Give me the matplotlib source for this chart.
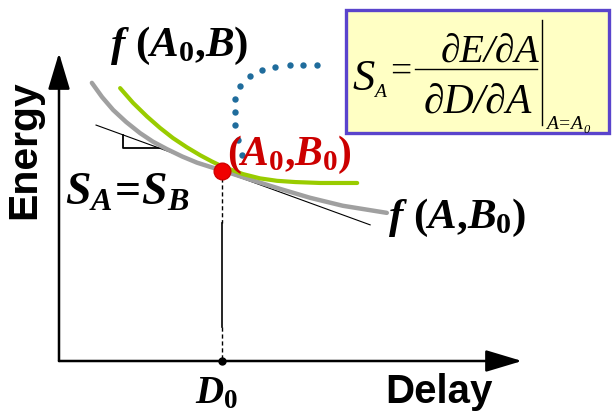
import matplotlib
matplotlib.use("Agg")
import matplotlib.pyplot as plt
from matplotlib.patches import Rectangle

plt.rcParams['mathtext.fontset'] = 'custom'
plt.rcParams['mathtext.it'] = 'Liberation Serif:italic:bold'
plt.rcParams['mathtext.rm'] = 'Liberation Serif:bold'
plt.rcParams['mathtext.bf'] = 'Liberation Serif:bold'

# f(A, B0) - grey curve
gray_delay = [0.71, 0.93, 1.17, 1.45, 1.75, 2.03, 2.33, 2.66, 2.98, 3.25, 3.52, 4.13, 4.77, 5.42, 6.13, 7.08]
gray_energy = [9.03, 8.57, 8.15, 7.76, 7.40, 7.12, 6.88, 6.64, 6.44, 6.31, 6.19, 5.89, 5.59, 5.30, 5.04, 4.81]

# f(A0, B) - green curve
green_delay = [1.32, 1.60, 1.90, 2.18, 2.46, 2.76, 3.05, 3.30, 3.52, 3.97, 4.34, 4.71, 5.10, 5.64, 6.44]
green_energy = [8.86, 8.38, 7.94, 7.57, 7.24, 6.94, 6.68, 6.48, 6.32, 6.07, 5.93, 5.85, 5.81, 5.78, 5.78]

# common tangent S_A = S_B
tangent_delay = [0.80, 6.72]
tangent_energy = [7.66, 4.42]

# little slope triangle
tri_delay = [1.38, 1.38, 2.22]
tri_energy = [7.34, 6.92, 6.92]

# operating point (A0, B0)
d0 = 3.52
e0 = 6.17

# dotted pointer to the formula box
pointer_delay = [3.95, 3.87, 3.80, 3.80, 3.80, 3.91, 4.13, 4.38, 4.67, 4.99, 5.27, 5.57]
pointer_energy = [6.69, 7.18, 7.66, 8.08, 8.51, 8.93, 9.25, 9.45, 9.55, 9.61, 9.61, 9.61]

fig = plt.figure(figsize=(6.12, 4.19), dpi=100)
ax = fig.add_axes([59 / 612, 58 / 419, 463 / 612, 308 / 419])
ax.set_xlim(0, 10)
ax.set_ylim(0, 10)
ax.axis('off')

# axes arrows
arrow = dict(arrowstyle='-|>,head_length=1.5,head_width=0.45', mutation_scale=15,
             lw=1.8, color='black', shrinkA=0, shrinkB=0)
ax.annotate('', xy=(10, 0), xytext=(0, 0), arrowprops=arrow, annotation_clip=False)
ax.annotate('', xy=(0, 10), xytext=(0, 0), arrowprops=arrow, annotation_clip=False)

ax.text(-0.75, 6.85, 'Energy', rotation=90, ha='center', va='center',
        fontsize=29.5, fontweight='bold', family='Liberation Sans')
ax.text(7.04, -1.36, 'Delay', ha='left', va='baseline',
        fontsize=29, fontweight='bold', family='Liberation Sans')
ax.text(2.94, -1.36, r'$D_0$', ha='left', va='baseline', fontsize=28)

# drop line from the operating point to the delay axis
ax.plot([d0, d0], [e0, 4.48], color='black', lw=1, ls=(0, (3, 2)), clip_on=False)
ax.plot([d0, d0], [4.48, 1.10], color='black', lw=1.2, clip_on=False)
ax.plot([d0, d0], [1.10, 0], color='black', lw=1, ls=(0, (3, 2)), clip_on=False)
ax.plot([d0], [0], 'o', color='black', ms=5, clip_on=False)

# curves
ax.plot(tangent_delay, tangent_energy, color='black', lw=0.8, clip_on=False)
ax.plot(tri_delay, tri_energy, color='black', lw=1.3, clip_on=False)
ax.plot(gray_delay, gray_energy, color='#a0a0a0', lw=3.2,
        solid_capstyle='round', solid_joinstyle='round', clip_on=False)
ax.plot(green_delay, green_energy, color='#99cc00', lw=3.0,
        solid_capstyle='round', solid_joinstyle='round', clip_on=False)
ax.plot(pointer_delay, pointer_energy, 'o', color='#1f6c9c', ms=4.6,
        mec='none', clip_on=False)
ax.plot([d0], [e0], 'o', color='#f00000', ms=12, mec='#d00000', clip_on=False)

# curve labels
ax.text(1.10, 9.90, r'$f\ (A_0{,}B)$', ha='left', va='baseline', fontsize=31)
ax.text(3.63, 6.36, r'$(A_0{,}B_0)$', ha='left', va='baseline', fontsize=30,
        color='#cc0000')
ax.text(0.13, 5.06, r'$S_A\!=\!S_B$', ha='left', va='baseline', fontsize=33)
ax.text(7.11, 4.32, r'$f\ (A{,}B_0)$', ha='left', va='baseline', fontsize=31)

# formula box
ax.add_patch(Rectangle((6.20, 7.40), 5.68, 4.00, facecolor='#ffffc4',
                       edgecolor='#5a44cc', lw=2.4, clip_on=False))
serif = dict(family='Liberation Serif', style='italic')
ax.text(6.33, 8.80, 'S', ha='left', va='baseline', fontsize=32, **serif)
ax.text(6.80, 8.58, 'A', ha='left', va='baseline', fontsize=14, **serif)
ax.text(7.38, 9.38, '=', ha='center', va='center', fontsize=27,
        family='Liberation Serif')
ax.text(9.30, 9.71, '\u2202E/\u2202A', ha='center', va='baseline', fontsize=28.5, **serif)
ax.plot([7.69, 10.32], [9.48, 9.48], color='black', lw=1.0, clip_on=False)
ax.text(9.04, 8.05, '\u2202D/\u2202A', ha='center', va='baseline', fontsize=30, **serif)
ax.plot([10.43, 10.43], [7.66, 11.07], color='black', lw=1.0, clip_on=False)
ax.text(10.52, 7.52, 'A=A', ha='left', va='baseline', fontsize=14, **serif)
ax.text(11.33, 7.40, '0', ha='left', va='baseline', fontsize=9, **serif)

fig.savefig('out.png', dpi=100)
